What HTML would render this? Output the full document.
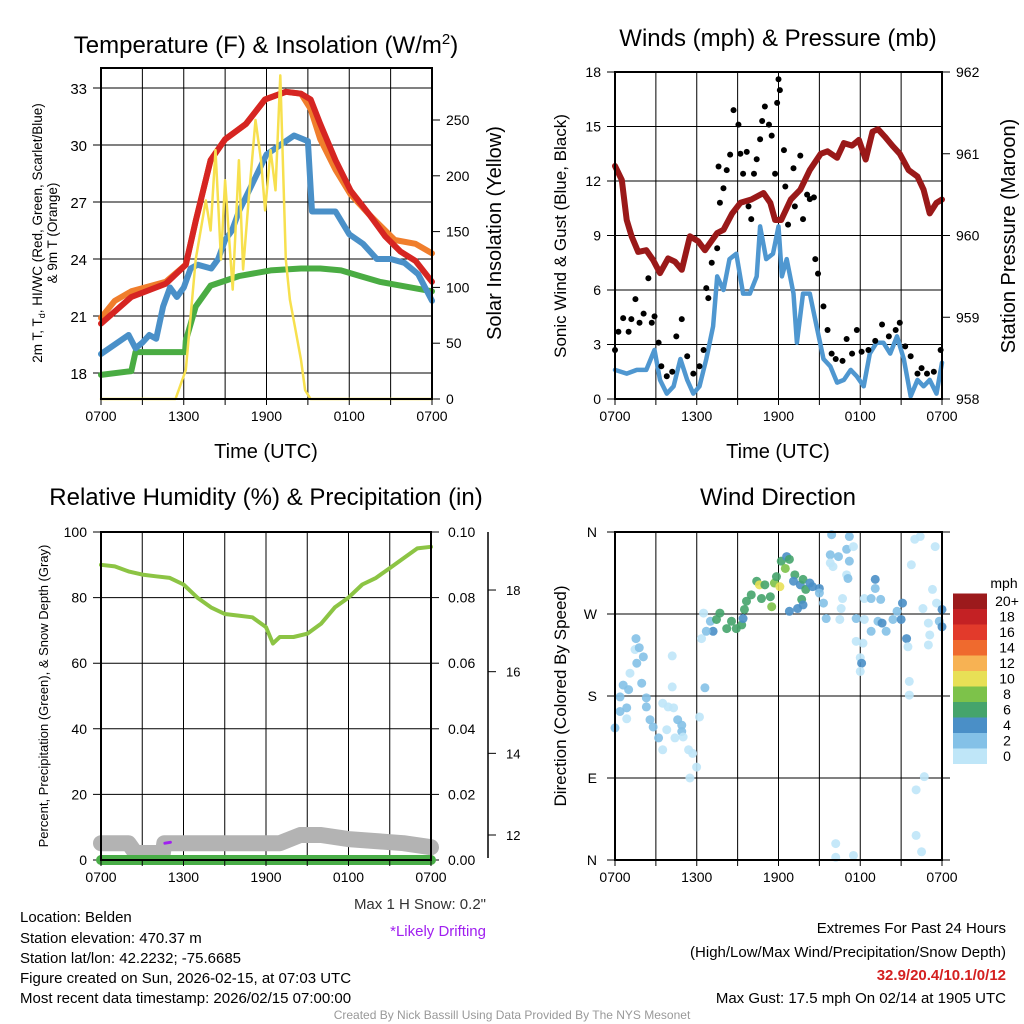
<!DOCTYPE html>
<html><head><meta charset="utf-8">
<style>
html,body{margin:0;padding:0;background:#fff;}
svg{display:block;font-family:"Liberation Sans",Arial,sans-serif;}
</style></head>
<body>
<svg id="s" width="1024" height="1024" viewBox="0 0 1024 1024" xmlns="http://www.w3.org/2000/svg">
<text x="266" y="53" font-size="24" text-anchor="middle">Temperature (F) &amp; Insolation (W/m<tspan dy="-9" font-size="15">2</tspan><tspan dy="9">)</tspan></text>
<text x="778" y="46" font-size="24" text-anchor="middle">Winds (mph) &amp; Pressure (mb)</text>
<text x="266" y="505" font-size="24" text-anchor="middle">Relative Humidity (%) &amp; Precipitation (in)</text>
<text x="778" y="505" font-size="24" text-anchor="middle">Wind Direction</text>
<text transform="translate(42,233) rotate(-90)" font-size="13.5" text-anchor="middle">2m T, T<tspan dy="3" font-size="9">d</tspan><tspan dy="-3">, HI/WC (Red, Green, Scarlet/Blue)</tspan></text>
<text transform="translate(57,233) rotate(-90)" font-size="13.5" text-anchor="middle">&amp; 9m T (Orange)</text>
<text transform="translate(501,233) rotate(-90)" font-size="20" text-anchor="middle">Solar Insolation (Yellow)</text>
<text x="266" y="458" font-size="20" text-anchor="middle">Time (UTC)</text>
<text transform="translate(566,236) rotate(-90)" font-size="17" text-anchor="middle">Sonic Wind &amp; Gust (Blue, Black)</text>
<text transform="translate(1015,236) rotate(-90)" font-size="20" text-anchor="middle">Station Pressure (Maroon)</text>
<text x="778" y="458" font-size="20" text-anchor="middle">Time (UTC)</text>
<text transform="translate(48,696) rotate(-90)" font-size="13" text-anchor="middle">Percent, Precipitation (Green), &amp; Snow Depth (Gray)</text>
<text transform="translate(566,696) rotate(-90)" font-size="17" text-anchor="middle">Direction (Colored By Speed)</text>
<text x="486" y="909" font-size="15" fill="#333" text-anchor="end">Max 1 H Snow: 0.2"</text>
<text x="486" y="936" font-size="15" fill="#a020f0" text-anchor="end">*Likely Drifting</text>
<g font-size="15">
<text x="20" y="922">Location: Belden</text>
<text x="20" y="943">Station elevation: 470.37 m</text>
<text x="20" y="963">Station lat/lon: 42.2232; -75.6685</text>
<text x="20" y="983">Figure created on Sun, 2026-02-15, at 07:03 UTC</text>
<text x="20" y="1003">Most recent data timestamp: 2026/02/15 07:00:00</text>
</g>
<g font-size="15" text-anchor="end">
<text x="1006" y="933">Extremes For Past 24 Hours</text>
<text x="1006" y="957">(High/Low/Max Wind/Precipitation/Snow Depth)</text>
<text x="1006" y="980" fill="#d42020" font-weight="bold">32.9/20.4/10.1/0/12</text>
<text x="1006" y="1003">Max Gust: 17.5 mph On 02/14 at 1905 UTC</text>
</g>
<text x="512" y="1019" font-size="12" fill="#999" text-anchor="middle">Created By Nick Bassill Using Data Provided By The NYS Mesonet</text>
<g id="g"></g>
</svg>
<script>
// ---- Temperature panel data (hours since 0700 UTC) ----
const redH=[0,2.2,4.7,6.15,6.87,7.95,9,10.5,11.9,13.4,14.5,15.2,15.9,17,18.1,19.5,20.6,21.7,22.8,24];
const redV=[20.6,22,22.7,23.7,26,29.2,30.3,31.1,32.4,32.8,32.7,32.4,31.1,29.2,27.6,26.3,25.2,24.4,23.9,22.8];
const orangeH=[0,1,2.2,4.7,6.15,6.87,7.95,9,10.5,11.9,13.4,14.5,15.2,15.9,17,18.1,19.5,21.3,22.8,24];
const orangeV=[20.9,21.8,22.3,22.8,23.7,26,29.2,30.3,31.1,32.4,32.8,32.7,31.9,30.3,28.7,27.4,26.3,25,24.8,24.3];
const blueH=[0,1,2,2.5,3,3.5,4,4.5,5,5.5,6,6.5,7,8,8.5,9,9.5,10,11,12,13,14,15,15.3,16,17,18,19,20,21,22,23,24];
const blueV=[19,19.5,20,19.3,19.6,20,19.8,21.5,22.5,22,22.5,23.5,23.7,23.5,24,25,25.5,26.5,28,29.5,30,30.5,30.2,26.5,26.5,26.5,25.3,24.8,24,24,23.8,23.2,21.8];
const greenH=[0,2.2,2.5,6.1,6.15,6.87,7.95,10,12.3,14.5,15.9,17.4,18.8,20.2,21.7,24];
const greenV=[17.9,18.1,19.1,19.1,19.7,21.5,22.6,23.1,23.4,23.5,23.5,23.4,23.1,22.8,22.6,22.3];
const solarH=[0,5.4,6.15,6.87,7.6,7.95,8.3,8.7,9,9.55,10,10.3,10.7,11.2,11.6,11.9,12.3,12.65,13,13.4,13.7,14.1,14.5,14.8,15.2,24];
const solarV=[0,0,26,125,178,151,223,125,196,98,214,116,178,250,214,169,223,187,290,125,89,62,35,8,0,0];
const tempTicks=[18,21,24,27,30,33];
const solarTicks=[0,50,100,150,200,250];
const timeLabels=["0700","1300","1900","0100","0700"];
// ---- Wind panel data ----
const presH=[0,0.5,0.86,1.22,1.7,2.3,2.8,3.3,3.9,4.4,4.9,5.5,6.1,6.6,7.5,7.96,8.6,9.2,10,10.9,11.4,11.75,12.2,12.9,13.6,14.3,15.1,15.6,16.3,16.8,17.4,17.9,18.4,18.9,19.3,19.8,20.4,20.9,21.55,22.2,22.65,23.1,23.6,24];
const presV=[960.85,960.68,960.19,959.99,959.8,959.82,959.7,959.54,959.72,959.68,959.58,959.99,959.93,959.82,960.03,960.07,960.27,960.4,960.44,960.52,960.4,960.19,960.19,960.44,960.56,960.8,961.0,961.03,960.95,961.13,961.1,961.17,960.93,961.27,961.3,961.21,961.09,961.0,960.8,960.72,960.56,960.27,960.4,960.44];
const windH=[0,0.86,1.6,2.3,2.9,3.3,3.8,4.3,4.8,5.3,5.75,6.2,6.7,7.2,7.5,7.96,8.4,8.9,9.4,9.9,10.4,10.65,11.1,11.6,12,12.25,12.6,13.1,13.35,13.8,14.3,14.8,15.3,15.8,16.3,16.8,17.3,17.75,18.25,18.7,19.2,19.7,20.2,20.7,21.2,21.7,22.2,22.65,23.1,23.6,24];
const windV=[1.6,1.4,1.6,1.6,2.7,1.05,0.3,0.7,2.2,1.05,0.3,0.7,2.2,4,6.75,6,7.7,8,5.8,5.8,6.75,9.5,7.7,8,9.5,6.75,7.7,5.8,3.1,5.8,5.8,4,2.2,1.8,0.9,1.05,1.6,1.25,0.7,2.5,3.1,3.1,2.5,3.45,2.2,0.15,1.05,0.7,1.05,0.3,2];
const gustH=[0,0.25,0.6,1,1.2,1.5,1.8,2.1,2.45,2.7,2.9,3.2,3.4,3.8,4.2,4.5,4.9,5.3,5.75,6.2,6.5,6.7,6.85,7.1,7.5,7.6,7.7,7.96,8.2,8.45,8.7,9.06,9.2,9.4,9.67,9.8,10,10.2,10.4,10.65,10.8,11,11.3,11.5,11.75,11.9,12,12.1,12.4,12.5,12.7,13.1,13.2,13.6,13.8,14.1,14.3,14.6,14.7,14.9,15.3,15.6,15.9,16.2,16.7,17,17.4,17.75,18.1,18.6,19.1,19.6,20.1,20.6,20.9,21.3,21.7,22.2,22.5,22.9,23.4,23.9];
const gustV=[2.7,3.7,4.45,3.7,4.4,5.5,4.2,4.7,6.65,4.2,4.55,3.1,1.8,1.25,1.5,3.45,4.4,2.35,1.4,1.8,2.7,6.1,5.55,7.5,8.3,12.8,10.8,11.6,12.6,13.45,15.9,15.1,13.5,12.4,13.6,10.6,9.9,12.4,13.2,14.3,15.3,16.1,15.1,14.5,12.4,16.3,17.6,17,13.7,11.7,9.6,12.7,10.6,13.4,9.9,11.25,11,11.1,7.7,6.9,5.1,3.8,2.5,2.2,2.1,3.3,2.5,3.8,2.6,2.7,3.2,4.1,3.45,3.8,4.2,2.9,2.35,1.4,1.7,1.4,1.5,2.7];
const windTicks=[0,3,6,9,12,15,18];
const presTicks=[958,959,960,961,962];
// ---- Humidity panel data ----
const rhH=[0,1,2,3,4,5,6,7,8,9,10,11,12,12.5,13,14,15,16,17,18,19,20,21,22,23,24];
const rhV=[90,89.5,88,87,86.5,86,84,80,77,75,74.5,74,71,66,68,68,69,72,77,80,84,86,89,92,95,95.5];
const snowH=[0,2,2.5,4.5,4.6,13,14.5,16,18,20,22,24];
const snowV=[11.8,11.8,11.56,11.56,11.8,11.8,12.0,12.0,11.9,11.85,11.8,11.7];
const precipH=[0,24];
const precipV=[0,0];
const rhTicks=[0,20,40,60,80,100];
const precipTicks=["0.00","0.02","0.04","0.06","0.08","0.10"];
const snowTicks=[12,14,16,18];
// ---- Direction panel data (aligned rows of 10) ----
const dirH=[0,0.37,0.37,0.6,1,0.86,0.86,1.1,1.6,1.47,
 1.78,2.08,1.54,1.96,2.3,2.3,2.57,2.8,3.2,3.5,
 3.9,4.3,3.8,3.5,4.2,4.2,4.6,4.9,4.9,4.4,
 5.0,5.4,5.7,5.99,5.5,6.2,6.6,6.35,6.5,7,
 7.2,6.7,7.45,7.7,8.2,8.55,8.9,9.3,9.4,9.5,
 9.65,10,10.4,10.6,11,10.75,11.4,11.5,11.7,11.85,
 12.1,12.2,12.6,12.8,12.5,13.2,13.1,13.6,13.8,14,
 13.7,14.3,14.5,15,15.3,15.5,15,12.8,13.4,13.8,
 15.9,15.8,16,15.8,16.4,17,17.2,17.5,17.2,17,
 17.1,16.7,16.6,16.5,17.7,17.7,18.2,18,18.1,18,
 18.3,18.3,18.8,19.1,19.1,19.5,18.8,19.3,19.6,19.9,
 20.4,20.7,21,21.1,21.4,21.5,21.6,21.6,21.75,22,
 22.4,23.5,23.3,23.6,22.6,23,23.1,23,23.8,24,
 24,22.7,22.1,22.1,22.5,16.2,16.2,17.5];
const dirV=[145,163,179,192,187,167,155,205,216,231,
 233,223,243,194,178,168,154,146,134,172,
 168,167,143,121,190,224,154,148,141,134,
 135,121,117,102,90,157,189,243,271,262,
 251,251,264,271,254,262,254,258,265,275,
 284,291,306,302,302,287,289,278,304,311,
 300,328,333,330,320,313,306,302,308,297,
 286,304,300,298,282,265,293,273,276,280,
 357,335,322,326,333,341,355,344,328,313,
 309,287,276,264,265,240,238,222,216,207,
 287,264,287,298,308,286,251,262,260,251,
 264,273,264,282,243,234,196,181,324,352,
 355,344,297,282,276,260,247,236,262,275,
 256,91.5,77,27,9,18,3,5];
const dirS=[3,3,2,3,3,3,1,1,3,1,
 3,3,3,2,3,3,3,3,3,1,
 1,1,1,1,1,1,3,3,3,1,
 1,1,1,1,1,1,3,1,1,3,
 4,3,6,6,6,7,7,7,4,6,
 6,6,6,10,7,6,7,8,8,6,
 10,6,4,6,8,6,4,4,6,6,
 6,4,4,4,3,3,3,4,4,4,
 3,3,1,1,3,3,3,1,3,1,
 3,1,1,1,3,1,1,1,4,1,
 1,1,3,3,4,3,3,3,4,3,
 3,3,4,4,4,1,1,1,1,1,
 1,1,1,1,1,1,1,1,3,4,
 4,1,1,1,1,1,1,1];
const dirTicks=["N","E","S","W","N"];
const speedBins=["0","2","4","6","8","10","12","14","16","18","20+"];
const speedColors=["#bfe6f8","#84c1e7","#4a8fc7","#45a46c","#7dc24a","#e8e056","#f7b253","#ef6a2e","#e23a2b","#c42124","#9c1a1c"];

const NS="http://www.w3.org/2000/svg";
const G=document.getElementById('g');
function mk(tag,at,parent){const e=document.createElementNS(NS,tag);for(const k in at)e.setAttribute(k,at[k]);(parent||G).appendChild(e);return e;}
function txt(x,y,s,size,anchor){const e=mk('text',{x:x,y:y,'font-size':size,'text-anchor':anchor});e.textContent=s;return e;}
function path(xs,ys,fx,fy,color,w,name){let d='';for(let i=0;i<xs.length;i++){d+=(i?'L':'M')+fx(xs[i]).toFixed(1)+' '+fy(ys[i]).toFixed(1);}
 const p=mk('path',{d:d,fill:'none',stroke:color,'stroke-width':w,'stroke-linejoin':'round','stroke-linecap':'round'});
 
 return p;}

function frame(x0,x1,y0,y1,name){
 const g=mk('g',{});
 
 
 for(let i=1;i<8;i++){const x=x0+(x1-x0)*i/8;mk('line',{x1:x,x2:x,y1:y0,y2:y1,stroke:'#000','stroke-width':1},g);}
 return g;}
function timeAxis(x0,x1,y1,name){
 for(let i=0;i<=8;i++){const x=x0+(x1-x0)*i/8;mk('line',{x1:x,x2:x,y1:y1,y2:y1+6,stroke:'#000','stroke-width':1});}
 timeLabels.forEach((l,i)=>{const t=txt(x0+(x1-x0)*i/4,y1+22,l,14,'middle');
  
  });}
function border(x0,x1,y0,y1){mk('rect',{x:x0,y:y0,width:x1-x0,height:y1-y0,fill:'none',stroke:'#000','stroke-width':2});}

// ===== Panel 1 =====
(function(){
 const x0=101,x1=432,y0=68,y1=399;
 const fx=h=>x0+h/24*(x1-x0);
 const fy=v=>373-(v-18)*19;
 const fs=v=>399-v*1.116;
 frame(x0,x1,y0,y1,'temperature-grid');
 tempTicks.forEach(v=>{mk('line',{x1:x0-8,x2:x1,y1:fy(v),y2:fy(v),stroke:'#000','stroke-width':1});const t=txt(x0-14,fy(v)+6,String(v),15,'end');});
 solarTicks.forEach(v=>{mk('line',{x1:x1,x2:x1+8,y1:fs(v),y2:fs(v),stroke:'#000'});const t=txt(x1+14,fs(v)+5,String(v),14,'start');});
 path(greenH,greenV,fx,fy,'#4aac43',6,'dewpoint-line');
 path(orangeH,orangeV,fx,fy,'#f07e2c',6,'temp-9m-line');
 path(redH,redV,fx,fy,'#d62522',6,'temp-2m-line');
 path(blueH,blueV,fx,fy,'#4a90c8',6,'wind-chill-line');
 path(solarH,solarV,fx,fs,'#f7e04e',2.5,'solar-line');
 border(x0,x1,y0,y1);
 timeAxis(x0,x1,y1,'temp-time');
})();

// ===== Panel 2 =====
(function(){
 const x0=615,x1=942,y0=72,y1=399;
 const fx=h=>x0+h/24*(x1-x0);
 const fy=v=>y1-v/18*(y1-y0);
 const fp=v=>y1-(v-958)/4*(y1-y0);
 frame(x0,x1,y0,y1,'wind-grid');
 windTicks.forEach(v=>{mk('line',{x1:x0-8,x2:x1,y1:fy(v),y2:fy(v),stroke:'#000'});const t=txt(x0-14,fy(v)+5,String(v),14,'end');});
 presTicks.forEach(v=>{mk('line',{x1:x1,x2:x1+8,y1:fp(v),y2:fp(v),stroke:'#000'});const t=txt(x1+14,fp(v)+5,String(v),14,'start');});
 path(windH,windV,fx,fy,'#4f97d0',4.5,'sonic-wind-line');
 gustH.forEach((h,i)=>{const c=mk('circle',{cx:fx(h),cy:fy(gustV[i]),r:3,fill:'#000'});});
 path(presH,presV,fx,fp,'#9a1919',6,'pressure-line');
 border(x0,x1,y0,y1);
 timeAxis(x0,x1,y1,'wind-time');
})();

// ===== Panel 3 =====
(function(){
 const x0=101,x1=431,y0=532,y1=860;
 const fx=h=>x0+h/24*(x1-x0);
 const fy=v=>y1-v/100*(y1-y0);
 const fsn=v=>835-(v-12)*40.83;
 frame(x0,x1,y0,y1,'humidity-grid');
 rhTicks.forEach(v=>{mk('line',{x1:x0-8,x2:x1,y1:fy(v),y2:fy(v),stroke:'#000'});const t=txt(x0-14,fy(v)+5,String(v),14,'end');});
 precipTicks.forEach((l,i)=>{const y=fy(i*20);mk('line',{x1:x1,x2:x1+8,y1:y,y2:y,stroke:'#000'});const t=txt(x1+17,y+5,l,14,'start');});
 mk('line',{x1:488,x2:488,y1:532,y2:858,stroke:'#000','stroke-width':1.5});
 snowTicks.forEach(v=>{mk('line',{x1:488,x2:496,y1:fsn(v),y2:fsn(v),stroke:'#000'});const t=txt(506,fsn(v)+5,String(v),13,'start');});
 path(snowH,snowV,fx,fsn,'#b3b3b3',16,'snow-depth-line');
 path([4.65,5.05],[11.8,11.82],fx,fsn,'#a020f0',3,'drifting-marker');
 path(rhH,rhV,fx,fy,'#8cc444',4,'rh-line');
 path(precipH,precipV,fx,fy,'#49ad47',10,'precip-line');
 border(x0,x1,y0,y1);
 timeAxis(x0,x1,y1,'rh-time');
})();

// ===== Panel 4 =====
(function(){
 const x0=615,x1=942,y0=532,y1=860;
 const fx=h=>x0+h/24*(x1-x0);
 const fy=v=>y1-v/360*(y1-y0);
 frame(x0,x1,y0,y1,'direction-grid');
 dirTicks.forEach((l,i)=>{const y=fy(i*90);mk('line',{x1:x0-8,x2:x1+8,y1:y,y2:y,stroke:'#000'});const t=txt(x0-18,y+5,l,14,'end');});
 const n=Math.min(dirH.length,dirV.length,dirS.length);
 for(let i=0;i<n;i++){const b=Math.min(10,Math.floor(dirS[i]/2));const c=mk('circle',{cx:fx(dirH[i]),cy:fy(dirV[i]),r:4.5,fill:speedColors[b],'fill-opacity':0.9});}
 border(x0,x1,y0,y1);
 timeAxis(x0,x1,y1,'direction-time');
 const cb=mk('g',{});
 
 
 const by=764,bh=15.5;
 speedBins.forEach((l,i)=>{mk('rect',{x:953,y:by-(i+1)*bh,width:34,height:bh,fill:speedColors[i]},cb);
  const t=txt(1007,by-i*bh-3,l,14,'middle');});
 const u=txt(1004,588,'mph',14,'middle');
})();
</script>
</body></html>
